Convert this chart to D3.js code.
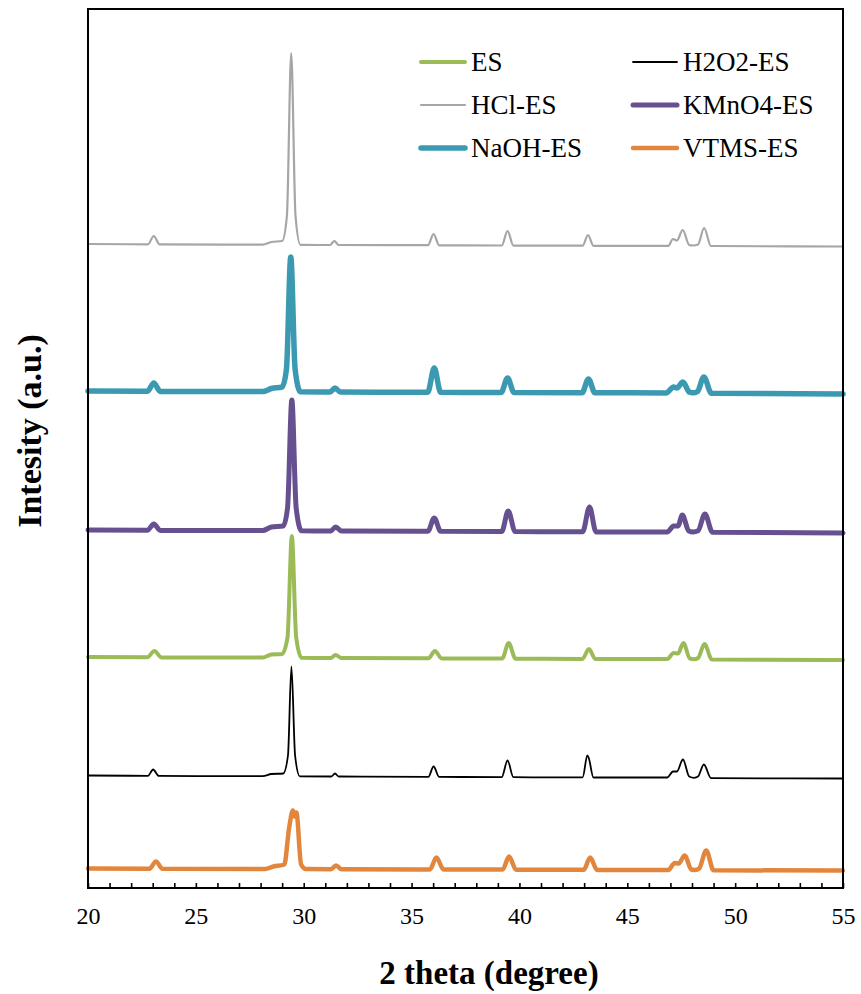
<!DOCTYPE html>
<html>
<head>
<meta charset="utf-8">
<script src="https://cdn.jsdelivr.net/npm/d3@7"></script>
<style>
  html, body { margin: 0; padding: 0; background: #fff; }
  svg { display: block; }
  text { font-family: "Liberation Serif", "Times New Roman", serif; fill: #000; }
</style>
</head>
<body>
<svg id="chart" width="861" height="994"></svg>
<script>
// XRD patterns of eggshell (ES) samples, stacked with vertical offsets.
// Each pattern: [2theta (degree), intensity (a.u.) relative to its own baseline].

const xTickLabels = [20, 25, 30, 35, 40, 45, 50, 55];
const xMinorTicks = [20, 21, 22, 23, 24, 25, 26, 27, 28, 29, 30, 31, 32, 33, 34, 35, 36, 37,
  38, 39, 40, 41, 42, 43, 44, 45, 46, 47, 48, 49, 50, 51, 52, 53, 54, 55];

const seriesNames = ["ES", "H2O2-ES", "HCl-ES", "KMnO4-ES", "NaOH-ES", "VTMS-ES"];

// vertical offset of each pattern (a.u.)
const seriesOffsets = [231, 112.5, 644, 358, 497, 19.5];

const patternES = [[20,0],[22.75,-0.3],[23.08,6],[23.4,-0.4],[28.1,-0.6],[28.5,2.5],[29.0,3],[29.25,20],[29.45,121],[29.65,20],[29.9,-0.8],[31.25,-1],[31.48,2],[31.75,-1],[35.78,-1.3],[36.08,6],[36.4,-1.4],[39.2,-1.6],[39.5,14],[39.82,-1.7],[42.92,-1.9],[43.22,8],[43.52,-2],[46.85,-2],[47.15,4],[47.35,3.5],[47.6,14],[47.9,-1.5],[48.1,-2.2],[48.28,-1],[48.58,13],[48.92,-2.5],[55,-3]];

const patternH2O2 = [[20,0],[22.78,-0.3],[23.02,6],[23.28,-0.4],[28.1,-0.7],[28.5,1.5],[29.05,2],[29.27,20],[29.43,109],[29.6,20],[29.82,-0.9],[31.28,-1],[31.45,2],[31.62,-1],[35.78,-1.3],[36.02,9],[36.28,-1.4],[39.18,-1.6],[39.45,15],[39.72,-1.7],[42.93,-1.9],[43.15,20],[43.22,17],[43.43,-2],[46.85,-2],[47.12,4],[47.3,4],[47.58,16],[47.87,-1],[48.1,-2.3],[48.28,-1],[48.55,11],[48.88,-2.6],[55,-3]];

const patternHCl = [[20,0],[22.78,-0.3],[23.05,8],[23.32,-0.4],[28.1,-0.7],[28.5,2],[29.0,3],[29.22,28],[29.42,191],[29.62,28],[29.85,-0.8],[31.22,-1],[31.42,3],[31.62,-1],[35.76,-1.2],[36.02,10],[36.28,-1.3],[39.18,-1.5],[39.45,13],[39.72,-1.6],[42.93,-1.7],[43.18,9],[43.43,-1.8],[46.9,-1.9],[47.12,5],[47.3,3.5],[47.57,14],[47.87,-1],[48.05,-1.5],[48.28,-0.5],[48.56,16],[48.88,-2],[55,-2.5]];

const patternKMnO4 = [[20,0],[22.75,-0.3],[23.05,6],[23.35,-0.4],[28.1,-0.6],[28.5,3],[29.05,4],[29.25,22],[29.45,130],[29.65,22],[29.9,-0.8],[31.25,-1],[31.48,3],[31.75,-1],[35.76,-1.2],[36.05,12],[36.35,-1.3],[39.18,-1.5],[39.48,19],[39.8,-1.6],[42.93,-1.8],[43.25,23],[43.55,-1.9],[46.85,-2],[47.15,4],[47.35,4],[47.55,15],[47.85,-1],[48.05,-2],[48.28,-0.8],[48.6,16],[48.95,-2.3],[55,-3]];

const patternNaOH = [[20,0],[22.75,-0.3],[23.05,8],[23.35,-0.4],[28.1,-0.6],[28.5,2.5],[29.0,4],[29.2,22],[29.4,134],[29.6,22],[29.85,-0.8],[31.22,-1],[31.45,3],[31.7,-1],[35.75,-1.2],[36.05,23],[36.35,-1.3],[39.15,-1.5],[39.45,13],[39.75,-1.6],[42.9,-1.8],[43.2,12],[43.5,-1.8],[46.8,-1.9],[47.15,4],[47.3,3],[47.58,9],[47.88,-1.2],[48.05,-1.8],[48.25,-0.6],[48.55,14],[48.9,-2.2],[55,-3]];

const patternVTMS = [[20,0],[22.85,-0.2],[23.15,7],[23.45,-0.3],[28.2,-0.4],[28.6,2],[29.1,4],[29.32,40],[29.5,58],[29.58,52],[29.66,56],[29.88,4],[30.1,-0.6],[31.27,-0.7],[31.5,3],[31.75,-0.7],[35.85,-0.9],[36.15,11],[36.48,-1],[39.22,-1.1],[39.52,12],[39.84,-1.2],[42.98,-1.3],[43.28,11],[43.6,-1.4],[46.9,-1.4],[47.2,5.5],[47.38,5],[47.66,13],[47.97,-1],[48.15,-1.5],[48.33,0],[48.66,18],[49.0,-1.8],[55,-2]];

const seriesPatterns = [patternES, patternH2O2, patternHCl, patternKMnO4, patternNaOH, patternVTMS];

// styling
const serifFont = '"Liberation Serif", "Times New Roman", serif';
const seriesColors = ["#9BBB59", "#000000", "#A6A6A6", "#66508F", "#3B9AB2", "#E3863D"];
const seriesWidths = [4, 1.8, 2.2, 5, 5.5, 4.5];
const drawOrder = [2, 4, 3, 0, 1, 5];

const margin = { left: 88, right: 843, top: 9, bottom: 888 };
const svg = d3.select("#chart");

const x = d3.scaleLinear().domain([20, 55]).range([margin.left, margin.right]);
const y = d3.scaleLinear().domain([0, 879]).range([margin.bottom, margin.top]);

const line = d3.line()
  .x(d => x(d[0]))
  .y(d => y(d[1]))
  .curve(d3.curveMonotoneX);

const plot = svg.append("g").attr("class", "patterns");
drawOrder.forEach(i => {
  const off = seriesOffsets[i];
  plot.append("path")
    .datum(seriesPatterns[i].map(p => [p[0], p[1] + off]))
    .attr("fill", "none")
    .attr("stroke", seriesColors[i])
    .attr("stroke-width", seriesWidths[i])
    .attr("stroke-linejoin", "round")
    .attr("stroke-linecap", "round")
    .attr("d", line);
});

// minor ticks every degree, pointing inward
const minorAxis = d3.axisBottom(x)
  .tickValues(xMinorTicks)
  .tickSize(-5)
  .tickFormat("");
svg.append("g")
  .attr("transform", `translate(0,${margin.bottom})`)
  .call(minorAxis)
  .call(g => g.select(".domain").remove())
  .call(g => g.selectAll("line").attr("stroke", "#000").attr("stroke-width", 1.6));

// labelled ticks
const labelAxis = d3.axisBottom(x)
  .tickValues(xTickLabels)
  .tickSize(0)
  .tickPadding(19)
  .tickFormat(d3.format("d"));
svg.append("g")
  .attr("transform", `translate(0,${margin.bottom})`)
  .call(labelAxis)
  .attr("font-family", serifFont)
  .attr("font-size", 24)
  .call(g => g.select(".domain").remove())
  .call(g => g.selectAll("text")
    .attr("font-family", serifFont)
    .style("font-family", serifFont)
    .style("font-size", "24px")
    .attr("fill", "#000"));

// plot frame
svg.append("rect")
  .attr("x", margin.left)
  .attr("y", margin.top)
  .attr("width", margin.right - margin.left)
  .attr("height", margin.bottom - margin.top)
  .attr("fill", "none")
  .attr("stroke", "#000")
  .attr("stroke-width", 2);

// axis titles
svg.append("text")
  .attr("x", 489)
  .attr("y", 984)
  .attr("text-anchor", "middle")
  .style("font-size", "33px")
  .style("font-weight", "bold")
  .text("2 theta (degree)");

svg.append("text")
  .attr("transform", "translate(41,431) rotate(-90)")
  .attr("text-anchor", "middle")
  .style("font-size", "34px")
  .style("font-weight", "bold")
  .text("Intesity (a.u.)");

// legend: two columns, three rows
const legendCols = [421, 633];
const legendRows = [62, 105, 148];
const legend = svg.append("g").attr("class", "legend");
seriesNames.forEach((name, k) => {
  const lx = legendCols[k % 2];
  const ly = legendRows[Math.floor(k / 2)];
  legend.append("line")
    .attr("x1", lx).attr("x2", lx + 44)
    .attr("y1", ly).attr("y2", ly)
    .attr("stroke", seriesColors[k])
    .attr("stroke-width", seriesWidths[k])
    .attr("stroke-linecap", "round");
  legend.append("text")
    .attr("x", lx + 50)
    .attr("y", ly + 9)
    .style("font-size", "27px")
    .text(name);
});
</script>
</body>
</html>
